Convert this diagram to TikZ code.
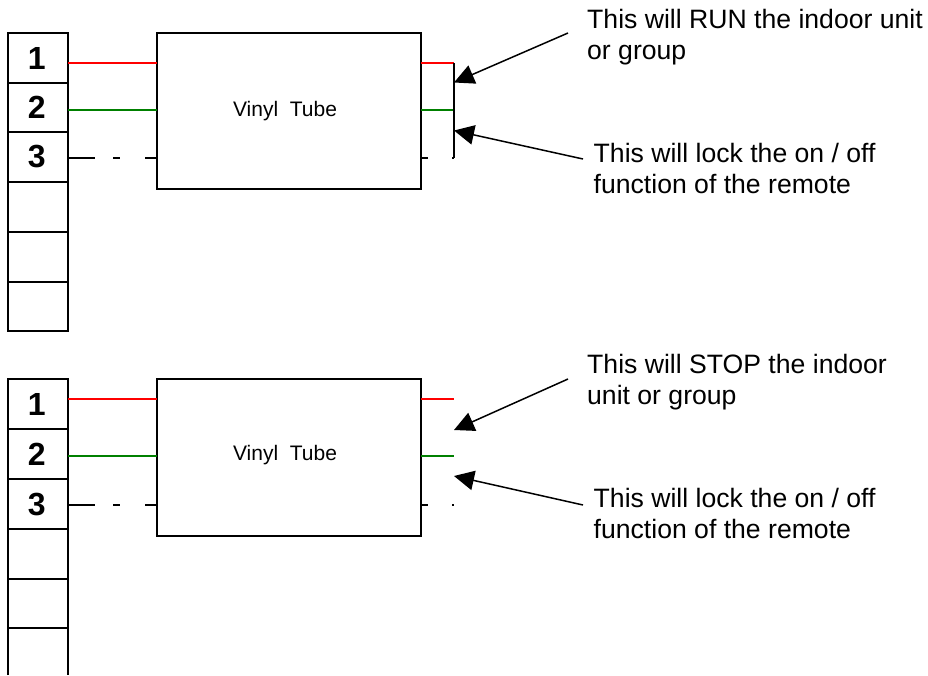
\documentclass[tikz,border=0pt]{standalone}
\usepackage{fontspec}
\setmainfont{Liberation Sans}
\usetikzlibrary{arrows.meta}
\tikzset{
  x=1pt,y=-1pt,
  cell/.style={draw=black,line width=1.5pt,minimum width=60pt,inner sep=0pt,outer sep=0pt,anchor=north west,font=\fontsize{32}{32}\selectfont\bfseries},
  tube/.style={draw=black,line width=1.5pt,minimum width=264pt,inner sep=0pt,outer sep=0pt,anchor=north west,font=\fontsize{21}{21}\selectfont},
  note/.style={align=left,anchor=north west,inner sep=0pt,font=\fontsize{26.6}{31}\selectfont},
  redw/.style={draw=red,line width=1.3pt},
  greenw/.style={draw=green!50!black,line width=1.3pt},
  blackw/.style={draw=black,line width=1.3pt},
  bar/.style={draw=black,line width=1.4pt},
  pointer/.style={draw=black,line width=1.5pt,-{Triangle[length=20pt,width=19.5pt]}},
}
\newcommand{\dg}[1]{\raisebox{-3pt}{\hspace{-2.6pt}#1}}
\newcommand{\vt}[1]{\raisebox{#1}{\hspace{-8pt}Vinyl\ \ Tube}}
\begin{document}
\begin{tikzpicture}
\useasboundingbox (0,0) rectangle (928,675);
% upper strip
\node[cell,minimum height=50pt] (a1) at (8,33) {\dg{1}};
\node[cell,minimum height=49pt] (a2) at (8,83) {\dg{2}};
\node[cell,minimum height=50pt] (a3) at (8,132) {\dg{3}};
\node[cell,minimum height=50pt] (a4) at (8,182) {};
\node[cell,minimum height=50pt] (a5) at (8,232) {};
\node[cell,minimum height=49pt] (a6) at (8,282) {};
\node[tube,minimum height=156pt] (ta) at (157,33) {\vt{3pt}};
% upper connectors
\coordinate (ar) at (454,63);
\coordinate (ag) at (454,110);
\coordinate (ad) at (454,158);
\draw[redw] (a1.east |- ar) -- (ta.west |- ar);
\draw[redw] (ta.east |- ar) -- (ar);
\draw[greenw] (a2.east |- ag) -- (ta.west |- ag);
\draw[greenw] (ta.east |- ag) -- (ag);
\draw[blackw,dash pattern=on 27pt off 18pt on 7pt off 25pt on 12pt] (a3.east |- ad) -- (ta.west |- ad);
\draw[blackw,dash pattern=on 6.5pt off 24.5pt on 2pt] (ta.east |- ad) -- (ad);
\draw[bar] (ar) -- (ad);
% upper notes
\node[note] (n1) at (587,9) {This will RUN the indoor unit\\or group};
\node[note] (n2) at (593.5,143) {This will lock the on / off\\function of the remote};
\coordinate (p1s) at (568,33);
\coordinate (p1t) at (454,82.5);
\coordinate (p2s) at (583,159);
\coordinate (p2t) at (454,130.5);
\draw[pointer] (p1s) -- (p1t);
\draw[pointer] (p2s) -- (p2t);
% lower strip
\node[cell,minimum height=50pt] (b1) at (8,379) {\dg{1}};
\node[cell,minimum height=50pt] (b2) at (8,429) {\dg{2}};
\node[cell,minimum height=50pt] (b3) at (8,479) {\dg{3}};
\node[cell,minimum height=50pt] (b4) at (8,529) {};
\node[cell,minimum height=49pt] (b5) at (8,579) {};
\draw[line width=1.5pt] (8,675) -- (b5.south west) -- (b5.south east) -- (68,675);
\node[tube,minimum height=157pt] (tb) at (157,379) {\vt{10pt}};
% lower connectors
\coordinate (br) at (454,399);
\coordinate (bg) at (454,456);
\coordinate (bd) at (454,505);
\draw[redw] (b1.east |- br) -- (tb.west |- br);
\draw[redw] (tb.east |- br) -- (br);
\draw[greenw] (b2.east |- bg) -- (tb.west |- bg);
\draw[greenw] (tb.east |- bg) -- (bg);
\draw[blackw,dash pattern=on 27pt off 18pt on 7pt off 25pt on 12pt] (b3.east |- bd) -- (tb.west |- bd);
\draw[blackw,dash pattern=on 6.5pt off 24.5pt on 2pt] (tb.east |- bd) -- (bd);
% lower notes
\node[note] (n3) at (587,354) {This will STOP the indoor\\unit or group};
\node[note] (n4) at (593.5,488) {This will lock the on / off\\function of the remote};
\coordinate (p3s) at (568,379);
\coordinate (p3t) at (454,430);
\coordinate (p4s) at (583,505);
\coordinate (p4t) at (454,476);
\draw[pointer] (p3s) -- (p3t);
\draw[pointer] (p4s) -- (p4t);
\end{tikzpicture}
\end{document}
